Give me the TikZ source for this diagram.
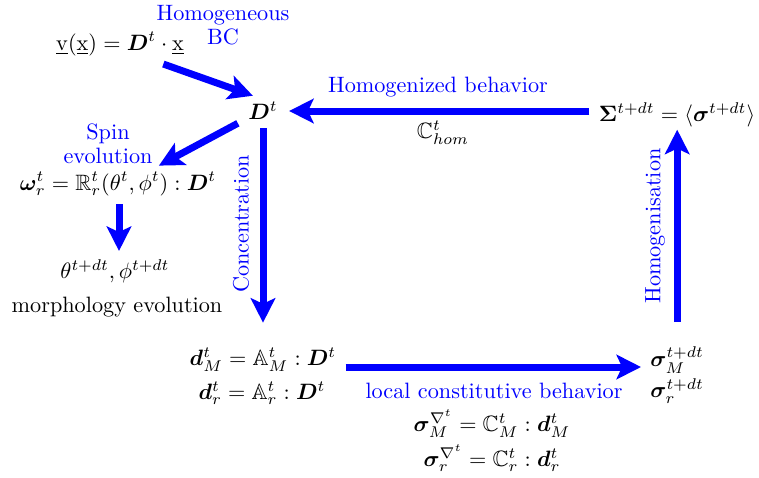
\documentclass[tikz,border=0pt]{standalone}
\usepackage{amsmath,amssymb,bm}
\usetikzlibrary{arrows.meta,calc}
\begin{document}
\begin{tikzpicture}[x=0.45pt,y=-0.45pt,
  bigarrow/.style={draw=blue, line width=3.15pt, -{Stealth[length=11pt,width=11pt,inset=2.5pt]}},
  lbl/.style={text=blue, align=center, inner sep=0pt},
  eq/.style={inner sep=0pt}]
\useasboundingbox (0,0) rectangle (759,477);
% nodes
\node[lbl] (hbc) at (223,25) {Homogeneous\\[-1pt]BC};
\node[eq] (vx) at (120,44) {$\underline{\mathrm{v}}(\underline{\mathrm{x}})=\bm{D}^t\cdot\underline{\mathrm{x}}$};
\node[eq] (D) at (263,111) {$\bm{D}^t$};
\node[lbl] (spin) at (108,144) {Spin\\[-1pt]evolution};
\node[eq] (om) at (118,184) {$\bm{\omega}_r^t=\mathbb{R}_r^t(\theta^t,\phi^t):\bm{D}^t$};
\node[eq] (th) at (115,271) {$\theta^{t+dt},\phi^{t+dt}$};
\node[eq] (morph) at (117,307) {morphology evolution};
\node[lbl, rotate=90] (conc) at (241,224) {Concentration};
\node[eq] (dM) at (263,360) {$\bm{d}_M^t=\mathbb{A}_M^t:\bm{D}^t$};
\node[eq] (dr) at (262,393) {$\bm{d}_r^t=\mathbb{A}_r^t:\bm{D}^t$};
\node[lbl] (loc) at (494,391) {local constitutive behavior};
\node[eq] (snM) at (492,424) {$\bm{\sigma}_M^{\nabla^t}=\mathbb{C}_M^t:\bm{d}_M^t$};
\node[eq] (snr) at (492,458) {$\bm{\sigma}_r^{\nabla^t}=\mathbb{C}_r^t:\bm{d}_r^t$};
\node[eq, anchor=west] (sM) at (650,360) {$\bm{\sigma}_M^{t+dt}$};
\node[eq, anchor=west] (sr) at (650,391) {$\bm{\sigma}_r^{t+dt}$};
\node[lbl, rotate=90] (homog) at (655,226) {Homogenisation};
\node[eq] (Sig) at (677,115) {$\bm{\Sigma}^{t+dt}=\langle\bm{\sigma}^{t+dt}\rangle$};
\node[lbl] (hb) at (438,87) {Homogenized behavior};
\node[eq] (chom) at (443,133) {$\mathbb{C}_{hom}^t$};
% arrows
\draw[bigarrow] ($(vx.south east)+(-21,8)$) -- ($(D.north west)+(5,-6)$);
\draw[bigarrow] ($(D.south west)+(-10,3)$) -- ($(spin.south east)+(6,1)$);
\draw[bigarrow] ($(om.south)+(1,8)$) -- ($(om.south |- th.north)+(1,-8)$);
\draw[bigarrow] ($(D.south)+(0,8)$) -- ($(D.south |- dM.north)+(0,-25)$);
\draw[bigarrow] ($(dM.east)+(9,7)$) -- ($(sM.west)+(-9,7)$);
\draw[bigarrow] ($(sM.north)+(0,-24)$) -- ($(sM.north |- Sig.south)+(0,2)$);
\draw[bigarrow] ($(Sig.west |- D.east)+(-9,0)$) -- ($(D.east)+(11,0)$);
\end{tikzpicture}
\end{document}
